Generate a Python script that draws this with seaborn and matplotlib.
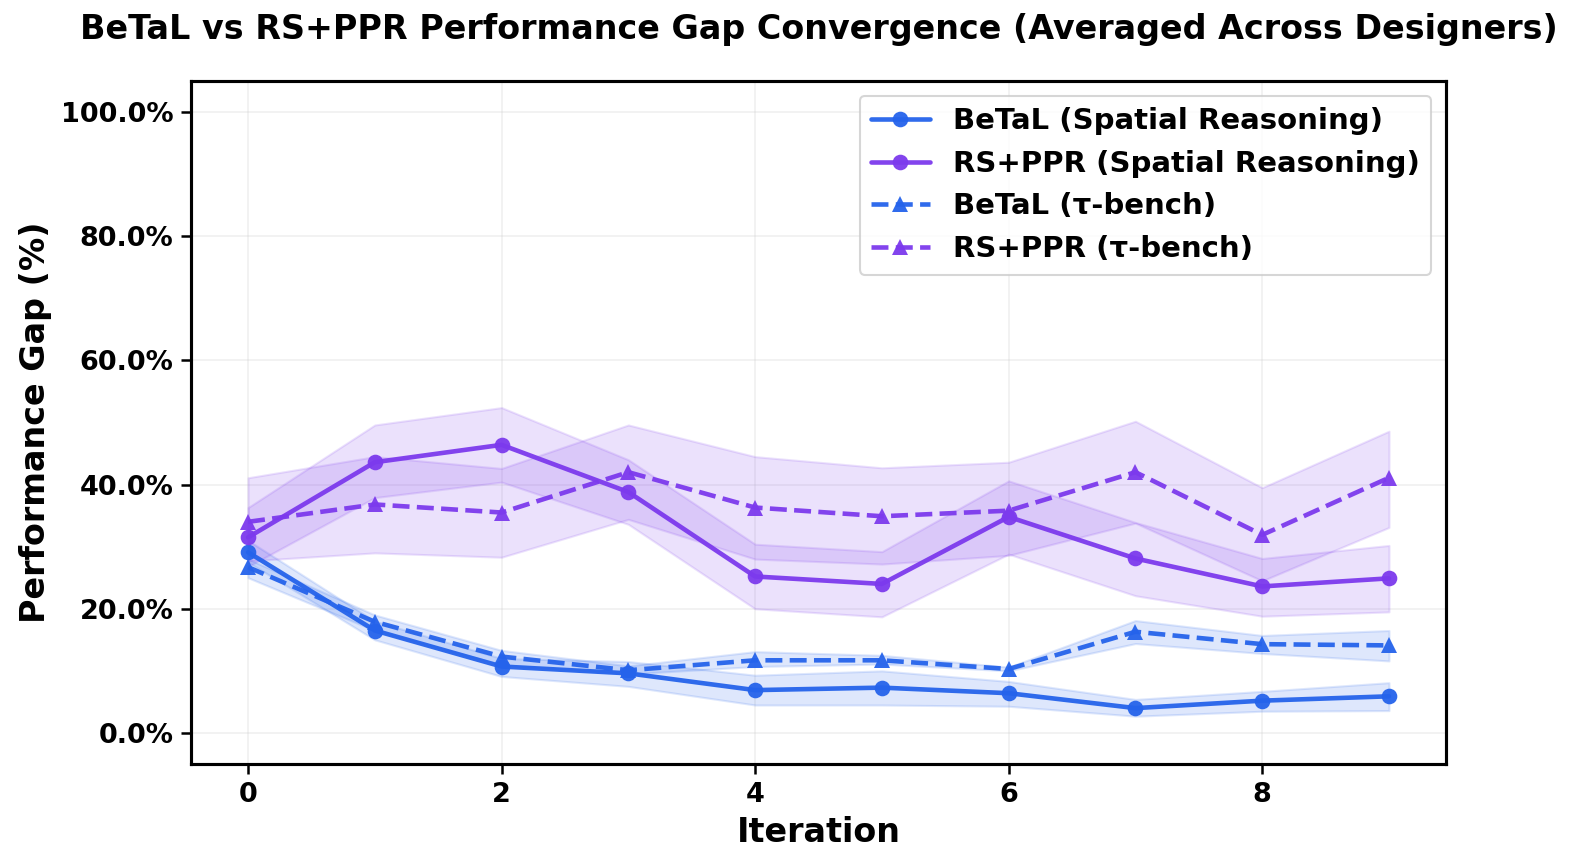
import matplotlib
matplotlib.use("Agg")
import matplotlib.pyplot as plt
import pandas as pd
import seaborn as sns

iterations = list(range(10))

betal_sr = [29.1, 16.5, 10.7, 9.6, 6.9, 7.3, 6.4, 4.0, 5.2, 5.9]
betal_sr_lo = [27.5, 15.0, 9.1, 7.5, 4.5, 4.5, 4.3, 2.7, 3.5, 3.6]
betal_sr_hi = [31.0, 18.0, 12.0, 11.5, 9.3, 10.0, 8.3, 5.4, 6.7, 8.1]

rsppr_sr = [31.5, 43.6, 46.4, 38.8, 25.2, 24.0, 34.8, 28.1, 23.6, 24.9]
rsppr_sr_lo = [26.8, 37.9, 40.4, 33.6, 20.0, 18.7, 28.8, 22.1, 18.8, 19.5]
rsppr_sr_hi = [36.3, 49.6, 52.4, 44.0, 30.4, 29.2, 40.6, 33.9, 28.1, 30.2]

betal_tau = [26.7, 17.9, 12.3, 10.1, 11.7, 11.7, 10.3, 16.3, 14.3, 14.1]
betal_tau_lo = [25.0, 16.5, 11.0, 9.5, 10.7, 11.1, 10.0, 14.4, 12.8, 11.6]
betal_tau_hi = [28.0, 19.0, 13.3, 10.8, 13.1, 12.5, 10.6, 18.1, 15.7, 16.5]

rsppr_tau = [34.0, 36.8, 35.5, 42.0, 36.3, 34.9, 35.8, 42.0, 31.9, 41.1]
rsppr_tau_lo = [27.7, 29.0, 28.3, 34.4, 28.0, 27.2, 28.6, 33.8, 24.5, 33.1]
rsppr_tau_hi = [41.1, 44.5, 42.6, 49.6, 44.5, 42.7, 43.6, 50.2, 39.5, 48.6]

BLUE = "#2563eb"
PURPLE = "#7c3aed"

series = [
    ("BeTaL (Spatial Reasoning)", betal_sr, betal_sr_lo, betal_sr_hi, BLUE, "-", "o"),
    ("RS+PPR (Spatial Reasoning)", rsppr_sr, rsppr_sr_lo, rsppr_sr_hi, PURPLE, "-", "o"),
    ("BeTaL (\u03c4-bench)", betal_tau, betal_tau_lo, betal_tau_hi, BLUE, "--", "^"),
    ("RS+PPR (\u03c4-bench)", rsppr_tau, rsppr_tau_lo, rsppr_tau_hi, PURPLE, "--", "^"),
]

sns.set_style("white")
plt.rcParams["font.family"] = ["DejaVu Sans"]
plt.rcParams["font.weight"] = "bold"
plt.rcParams["text.color"] = "black"
plt.rcParams["axes.labelcolor"] = "black"
plt.rcParams["xtick.color"] = "black"
plt.rcParams["ytick.color"] = "black"

fig, ax = plt.subplots(figsize=(10.507, 5.78), dpi=150)
fig.subplots_adjust(left=0.1212, right=0.9175, top=0.9066, bottom=0.1188)

for label, vals, lo, hi, color, ls, marker in series:
    df = pd.DataFrame({"iteration": iterations, "gap": vals})
    sns.lineplot(data=df, x="iteration", y="gap", ax=ax, color=color, linestyle=ls,
                 marker=marker, markersize=7.5, linewidth=2.2, markeredgewidth=0,
                 label=label, alpha=0.95)
    ax.fill_between(iterations, lo, hi, color=color, alpha=0.15, linewidth=1)

ax.set_ylim(-5, 105)
ax.set_xlim(-0.45, 9.45)
ax.set_yticks([0, 20, 40, 60, 80, 100])
ax.set_yticklabels([f"{v:.1f}%" for v in [0, 20, 40, 60, 80, 100]])
ax.set_xticks([0, 2, 4, 6, 8])
ax.tick_params(axis="both", labelsize=13, length=5, width=1.2, left=True, bottom=True)
for lab in ax.get_xticklabels() + ax.get_yticklabels():
    lab.set_fontweight("bold")
ax.grid(True, alpha=0.3)
for spine in ax.spines.values():
    spine.set_visible(True)
    spine.set_color("black")
    spine.set_linewidth(1.5)

ax.set_xlabel("Iteration", fontsize=16, fontweight="bold")
ax.set_ylabel("Performance Gap (%)", fontsize=16, fontweight="bold")
ax.set_title("BeTaL vs RS+PPR Performance Gap Convergence (Averaged Across Designers)",
             fontsize=16, fontweight="bold", pad=20)
ax.legend(loc="upper right", prop={"size": 14, "weight": "bold"}, frameon=True)

fig.savefig("out.png", dpi=150)
